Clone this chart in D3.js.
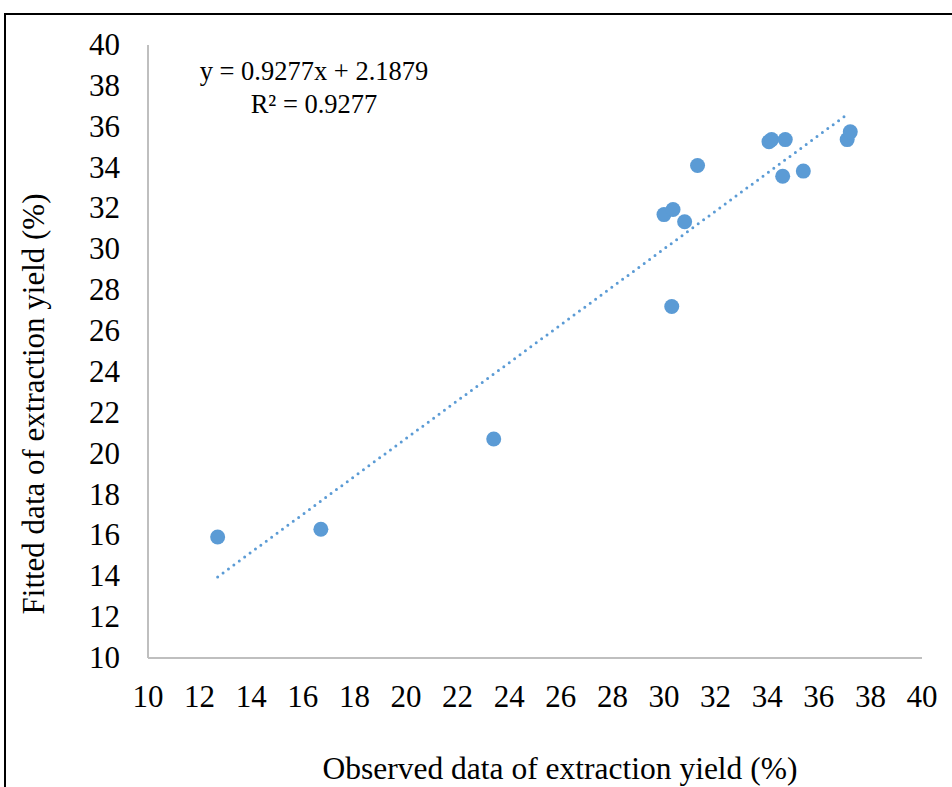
<!DOCTYPE html>
<html>
<head>
<meta charset="utf-8">
<script src="https://cdn.jsdelivr.net/npm/d3@7"></script>
<style>
  body { margin: 0; background: #fff; }
  svg { display: block; font-family: "Liberation Serif", "Times New Roman", serif; }
</style>
</head>
<body>
<svg id="chart" width="952" height="787"></svg>
<script>
// Observed vs fitted extraction yield (%)
const observed = [12.7, 16.7, 23.4, 30.0, 30.35, 30.3, 30.8, 31.3, 34.07, 34.17, 34.7, 34.6, 35.4, 37.1, 37.22];
const fitted   = [15.92, 16.3, 20.72, 31.7, 31.95, 27.2, 31.35, 34.1, 35.27, 35.37, 35.37, 33.58, 33.83, 35.37, 35.75];
const xTicks = [10, 12, 14, 16, 18, 20, 22, 24, 26, 28, 30, 32, 34, 36, 38, 40];
const yTicks = [10, 12, 14, 16, 18, 20, 22, 24, 26, 28, 30, 32, 34, 36, 38, 40];
const slope = 0.9277, intercept = 2.1879;

const svg = d3.select('#chart');
const blue = '#5b9bd5';

// outer frame (top + left visible)
svg.append('path')
    .attr('d', 'M5,787 V14 H952')
    .attr('fill', 'none')
    .attr('stroke', '#000')
    .attr('stroke-width', 2);

const x = d3.scaleLinear().domain([10, 40]).range([148, 922]);
const y = d3.scaleLinear().domain([10, 40]).range([658, 45]);

// axis lines
svg.append('line')
    .attr('x1', x(10)).attr('x2', x(10))
    .attr('y1', y(40)).attr('y2', y(10))
    .attr('stroke', '#bfbfbf').attr('stroke-width', 2);
svg.append('line')
    .attr('x1', x(10)).attr('x2', x(40))
    .attr('y1', y(10)).attr('y2', y(10))
    .attr('stroke', '#bfbfbf').attr('stroke-width', 2);

// tick labels
svg.selectAll('.xt')
    .data(xTicks)
    .enter().append('text')
    .attr('class', 'xt')
    .attr('x', d => x(d))
    .attr('y', 707)
    .attr('text-anchor', 'middle')
    .attr('font-size', 31)
    .text(d => d);

svg.selectAll('.yt')
    .data(yTicks)
    .enter().append('text')
    .attr('class', 'yt')
    .attr('x', 120)
    .attr('y', d => y(d) + 10)
    .attr('text-anchor', 'end')
    .attr('font-size', 31)
    .text(d => d);

// linear trendline, dotted
const xr = [d3.min(observed), 37.05];
svg.append('line')
    .attr('x1', x(xr[0])).attr('y1', y(slope * xr[0] + intercept))
    .attr('x2', x(xr[1])).attr('y2', y(slope * xr[1] + intercept))
    .attr('stroke', blue)
    .attr('stroke-width', 3)
    .attr('stroke-linecap', 'round')
    .attr('stroke-dasharray', '0 6.7');

// points
svg.selectAll('.pt')
    .data(observed.map((d, i) => [d, fitted[i]]))
    .enter().append('circle')
    .attr('class', 'pt')
    .attr('cx', d => x(d[0]))
    .attr('cy', d => y(d[1]))
    .attr('r', 7.5)
    .attr('fill', blue);

// equation label
svg.append('text')
    .attr('x', 314).attr('y', 80)
    .attr('text-anchor', 'middle')
    .attr('font-size', 26.5)
    .text('y = 0.9277x + 2.1879');
svg.append('text')
    .attr('x', 314).attr('y', 113)
    .attr('text-anchor', 'middle')
    .attr('font-size', 26.5)
    .text('R² = 0.9277');

// axis titles
svg.append('text')
    .attr('x', 560).attr('y', 779)
    .attr('text-anchor', 'middle')
    .attr('font-size', 31.5)
    .text('Observed data of extraction yield (%)');
svg.append('text')
    .attr('transform', 'translate(44,404) rotate(-90)')
    .attr('text-anchor', 'middle')
    .attr('font-size', 31)
    .text('Fitted data of extraction yield (%)');
</script>
</body>
</html>
